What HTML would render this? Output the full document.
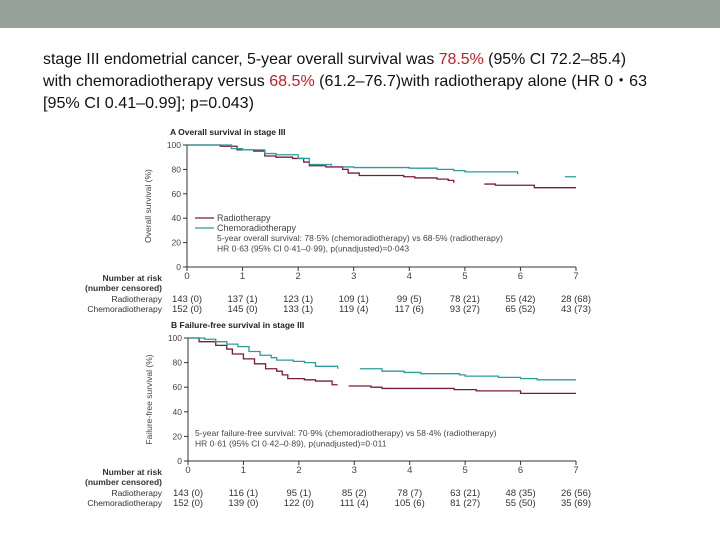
<!DOCTYPE html>
<html><head><meta charset="utf-8"><style>
html,body{margin:0;padding:0;background:#fff;width:720px;height:540px;overflow:hidden}
svg{display:block;font-family:"Liberation Sans",sans-serif}
</style></head><body>
<svg id="s" width="720" height="540">
<rect x="0" y="0" width="720" height="28" fill="#97a39a"/>
<g font-size="16" fill="#111">
<text x="43" y="64" textLength="583" lengthAdjust="spacingAndGlyphs">stage III endometrial cancer, 5-year overall survival was <tspan fill="#c0202a">78.5%</tspan> (95% CI 72.2–85.4)</text>
<text x="43" y="86" textLength="604" lengthAdjust="spacingAndGlyphs">with chemoradiotherapy versus <tspan fill="#c0202a">68.5%</tspan> (61.2–76.7)with radiotherapy alone (HR 0・63</text>
<text x="43" y="108" textLength="211" lengthAdjust="spacingAndGlyphs">[95% CI 0.41–0.99]; p=0.043)</text>
</g>
<g id="A"></g>
<g id="B"></g>
</svg>
<script>
// Panel A: overall survival (years, %); null = gap
const aChemoT=[0,0.6,0.8,1.0,1.4,1.6,2.0,2.2,2.6,null,2.8,3.0,4.0,4.5,4.8,5.0,5.95,null,6.8,7];
const aChemoV=[100,100,97,96,93,92,89,84,83,null,82,81.5,81,80,79,78,76,null,74,74];
const aRadioT=[0,0.6,0.9,1.2,1.4,1.6,1.9,2.1,2.2,2.5,2.8,2.9,3.1,3.9,4.1,4.5,4.7,4.8,null,5.35,5.55,6.25,7];
const aRadioV=[100,99,96,95,91,90,89,86,83,82,80,77,75,74,73,72,71,69,null,68,67,65,65];
const aRiskRadio=["143 (0)","137 (1)","123 (1)","109 (1)","99 (5)","78 (21)","55 (42)","28 (68)"];
const aRiskChemo=["152 (0)","145 (0)","133 (1)","119 (4)","117 (6)","93 (27)","65 (52)","43 (73)"];
// Panel B: failure-free survival
const bChemoT=[0,0.3,0.5,0.7,0.9,1.1,1.3,1.5,1.6,1.9,2.1,2.3,2.7,null,3.1,3.5,3.9,4.2,4.9,5.0,5.6,6.0,6.3,7];
const bChemoV=[100,99,97,95,93,89,86,84,82,81,80,77,75,null,75,73,72,71,70,69,68,67,66,66];
const bRadioT=[0,0.2,0.5,0.7,0.8,1.0,1.2,1.4,1.6,1.7,1.8,2.1,2.3,2.6,2.7,null,2.9,3.3,3.5,4.8,5.2,6.0,7];
const bRadioV=[100,97,94,91,87,83,79,75,73,70,67,66,65,62,62,null,61,60,59,58,57,55,55];
const bRiskRadio=["143 (0)","116 (1)","95 (1)","85 (2)","78 (7)","63 (21)","48 (35)","26 (56)"];
const bRiskChemo=["152 (0)","139 (0)","122 (0)","111 (4)","105 (6)","81 (27)","55 (50)","35 (69)"];
const yTicks=[0,20,40,60,80,100];
const xTicks=[0,1,2,3,4,5,6,7];
const NS="http://www.w3.org/2000/svg";
const RAD="#7b1c3f",CHE="#2a9d9b",GR="#444";
function mk(p,tag,at,txt){const e=document.createElementNS(NS,tag);for(const k in at)e.setAttribute(k,at[k]);if(txt!=null)e.textContent=txt;p.appendChild(e);return e;}
function panel(g,cfg){
 const X=t=>cfg.x0+(cfg.x1-cfg.x0)*t/7, Y=v=>cfg.y0+(cfg.y100-cfg.y0)*v/100;
 let t=mk(g,'text',{x:cfg.x0-17,y:cfg.y100-10,'font-size':8.5,'font-weight':'bold',fill:'#222'},cfg.title);
 
 let ax=mk(g,'path',{d:`M${cfg.x0},${cfg.y100} V${cfg.y0} H${cfg.x1}`,stroke:'#333',fill:'none','stroke-width':1});
 
 yTicks.forEach(v=>{mk(g,'line',{x1:cfg.x0-4,x2:cfg.x0,y1:Y(v),y2:Y(v),stroke:'#333'});
  const l=mk(g,'text',{x:cfg.x0-6,y:Y(v)+3,'font-size':8.5,fill:GR,'text-anchor':'end'},v);
  });
 xTicks.forEach((v,i)=>{mk(g,'line',{x1:X(v),x2:X(v),y1:cfg.y0,y2:cfg.y0+4,stroke:'#333'});
  const l=mk(g,'text',{x:X(v),y:cfg.y0+12,'font-size':9.5,fill:GR,'text-anchor':'middle'},v);
  
  const r=mk(g,'text',{x:X(v),y:cfg.rr,'font-size':9.5,fill:'#333','text-anchor':'middle'},cfg.riskR[i]);
  
  const c=mk(g,'text',{x:X(v),y:cfg.rr+10,'font-size':9.5,fill:'#333','text-anchor':'middle'},cfg.riskC[i]);
  });
 const yt=mk(g,'text',{transform:`translate(${cfg.x0-36},${(cfg.y0+cfg.y100)/2}) rotate(-90)`,'font-size':8.5,fill:GR,'text-anchor':'middle'},cfg.ylab);
 
 [["Number at risk",cfg.y0+14,'bold'],["(number censored)",cfg.y0+24,'bold'],["Radiotherapy",cfg.rr,'normal'],["Chemoradiotherapy",cfg.rr+10,'normal']].forEach(a=>{
  const e=mk(g,'text',{x:162,y:a[1],'font-size':8.5,fill:'#333','text-anchor':'end','font-weight':a[2]},a[0]);
  });
 function step(T,V,col,name){let d='',pen=false;
  for(let i=0;i<T.length;i++){if(T[i]===null){pen=false;continue;}
   if(!pen){d+=`M${X(T[i])},${Y(V[i])}`;pen=true;}else d+=`H${X(T[i])}V${Y(V[i])}`;}
  const p=mk(g,'path',{d:d,stroke:col,fill:'none','stroke-width':1.3});
  }
 step(cfg.rT,cfg.rV,RAD,'radiotherapy-curve');step(cfg.cT,cfg.cV,CHE,'chemoradiotherapy-curve');
 cfg.notes.forEach((n,i)=>{const e=mk(g,'text',{x:cfg.nx,y:cfg.ny+i*10.5,'font-size':8.5,fill:GR},n);
  });
}
panel(document.getElementById('A'),{title:'A  Overall survival in stage III',x0:187,x1:576,y0:267,y100:145,rr:302,
 riskR:aRiskRadio,riskC:aRiskChemo,ylab:'Overall survival (%)',rT:aRadioT,rV:aRadioV,cT:aChemoT,cV:aChemoV,
 nx:217,ny:241,notes:['5-year overall survival: 78·5% (chemoradiotherapy) vs 68·5% (radiotherapy)','HR 0·63 (95% CI 0·41–0·99), p(unadjusted)=0·043']});
panel(document.getElementById('B'),{title:'B  Failure-free survival in stage III',x0:188,x1:576,y0:461,y100:338,rr:496,
 riskR:bRiskRadio,riskC:bRiskChemo,ylab:'Failure-free survival (%)',rT:bRadioT,rV:bRadioV,cT:bChemoT,cV:bChemoV,
 nx:195,ny:436,notes:['5-year failure-free survival: 70·9% (chemoradiotherapy) vs 58·4% (radiotherapy)','HR 0·61 (95% CI 0·42–0·89), p(unadjusted)=0·011']});
const A=document.getElementById('A');
[[RAD,'Radiotherapy',218],[CHE,'Chemoradiotherapy',228]].forEach(l=>{
 const ln=mk(A,'line',{x1:195,x2:214,y1:l[2],y2:l[2],stroke:l[0],'stroke-width':1.2});
 
 const tx=mk(A,'text',{x:217,y:l[2]+3,'font-size':9,fill:GR},l[1]);
 });
</script>
</body></html>
